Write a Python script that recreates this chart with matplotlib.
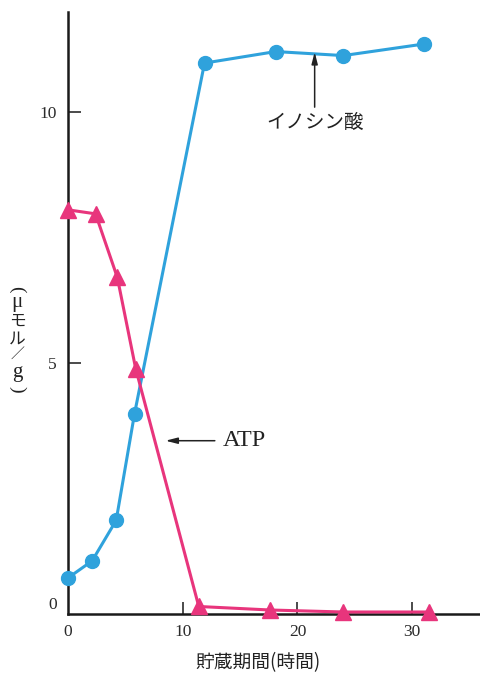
import matplotlib
matplotlib.use("Agg")
import matplotlib.pyplot as plt
from matplotlib.transforms import ScaledTranslation

# Storage time (hours) and concentration (μmol/g)
inosinic_hours = [0, 2.1, 4.2, 5.8, 11.9, 18.1, 24.0, 31.0]
inosinic_conc = [0.70, 1.04, 1.85, 3.98, 10.98, 11.21, 11.13, 11.36]

atp_hours = [0, 2.4, 4.3, 5.9, 11.4, 17.6, 24.0, 31.5]
atp_conc = [8.05, 7.97, 6.70, 4.88, 0.13, 0.06, 0.02, 0.02]

xticks = [0, 10, 20, 30]
yticks = [0, 5, 10]

BLUE = "#2fa2dc"
PINK = "#e8357c"
JP = ["Noto Sans CJK JP", "DejaVu Sans"]
SERIF = ["Liberation Serif", "DejaVu Serif"]

fig = plt.figure(figsize=(4.81, 6.87), dpi=100)
ax = fig.add_axes([68 / 481, 1 - 614 / 687, 1 - 68 / 481, (614 - 12) / 687])

ax.plot(inosinic_hours, inosinic_conc, color=BLUE, lw=2.2, marker="o",
        ms=10, mfc=BLUE, mec=BLUE, zorder=3, clip_on=False)
ax.plot(atp_hours, atp_conc, color=PINK, lw=2.2, marker="^",
        ms=11, mfc=PINK, mec=PINK, zorder=4, clip_on=False)

ax.set_xlim(0, 36)
ax.set_ylim(-0.02, 12)

for s in ("top", "right"):
    ax.spines[s].set_visible(False)
for s in ("left", "bottom"):
    ax.spines[s].set_linewidth(1.8)
    ax.spines[s].set_color("#1a1a1a")

ax.set_xticks(xticks)
ax.set_yticks(yticks)
ax.set_xticklabels([str(v) for v in xticks], fontfamily=SERIF, fontsize=12.5)
ax.set_yticklabels([str(v) for v in yticks], fontfamily=SERIF, fontsize=12.5)
ax.tick_params(axis="both", direction="in", length=9, width=1.1,
               color="#1a1a1a", labelcolor="#2a2a2a")
ax.tick_params(axis="x", pad=7)
ax.tick_params(axis="y", pad=8)

# the origin ticks sit on the spines; hide them
ax.xaxis.get_major_ticks()[0].tick1line.set_visible(False)
ax.yaxis.get_major_ticks()[0].tick1line.set_visible(False)

# lift the zero label on the y axis slightly
ylabels = ax.get_yticklabels()
ylabels[0].set_transform(ylabels[0].get_transform()
                         + ScaledTranslation(0, 10 / 100, fig.dpi_scale_trans))

# annotations
ax.annotate("", xy=(21.5, 11.2), xytext=(21.5, 10.1),
            arrowprops=dict(arrowstyle="-|>,head_length=0.7,head_width=0.18",
                            color="#222222", lw=1.1, shrinkA=0, shrinkB=0))
ax.text(21.5, 9.8, "イノシン酸", fontfamily=JP, fontsize=14, color="#222222",
        ha="center", va="center")

ax.annotate("", xy=(8.5, 3.44), xytext=(12.8, 3.44),
            arrowprops=dict(arrowstyle="-|>,head_length=0.7,head_width=0.18",
                            color="#222222", lw=1.1, shrinkA=0, shrinkB=0))
ax.text(13.5, 3.44, "ATP", fontfamily=SERIF, fontsize=17.5, color="#222222",
        ha="left", va="center")

fig.text(258 / 481, 1 - 663 / 687, "貯蔵期間(時間)", fontfamily=JP, fontsize=13.5,
         color="#222222", ha="center", va="center")

# vertical y-axis label, written top to bottom
ylabel_parts = [
    ("(", 289, SERIF, 14, -90),
    ("μ", 303, SERIF, 15, 0),
    ("モ", 321, JP, 12, 0),
    ("ル", 339, JP, 12, 0),
    ("／", 354, JP, 10, 0),
    ("g", 373, SERIF, 15, 0),
    (")", 389, SERIF, 14, -90),
]
for ch, yy, fam, fs, rot in ylabel_parts:
    fig.text(17 / 481, 1 - yy / 687, ch, fontfamily=fam, fontsize=fs,
             color="#222222", ha="center", va="center", rotation=rot)

fig.savefig("out.png", dpi=100)
